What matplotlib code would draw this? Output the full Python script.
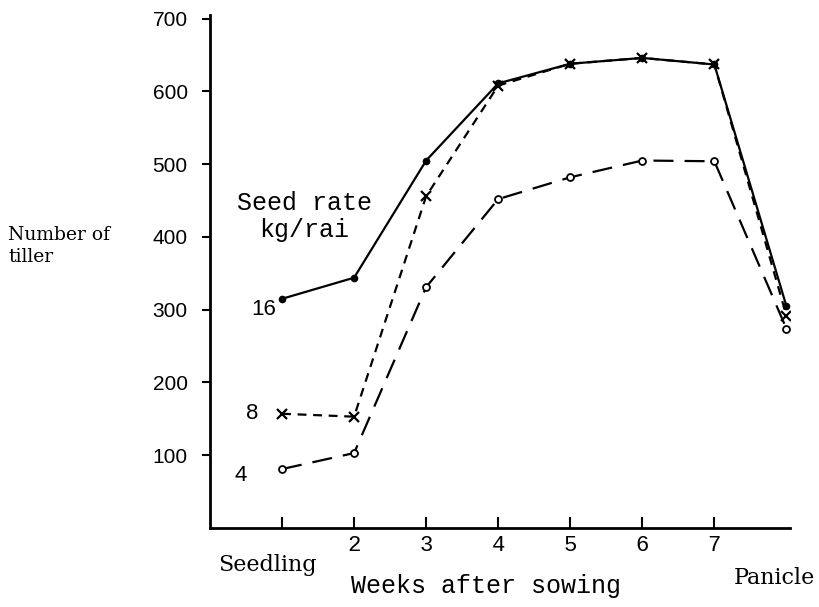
import matplotlib
matplotlib.use("Agg")
import matplotlib.pyplot as plt

# Data
positions = [1, 2, 3, 4, 5, 6, 7, 8]
rate16 = [315, 344, 505, 611, 638, 646, 637, 305]
rate8 = [157, 153, 456, 608, 638, 646, 637, 292]
rate4 = [81, 103, 331, 452, 482, 505, 504, 274]
xtick_pos = [1, 2, 3, 4, 5, 6, 7]
xtick_labels = ["", "2", "3", "4", "5", "6", "7"]
ytick_vals = [100, 200, 300, 400, 500, 600, 700]
series_labels = ["16", "8", "4"]

fig = plt.figure(figsize=(8.2, 6.07), dpi=100)
ax = fig.add_axes([210/820, 1-528/607, 580/820, 513/607])

ax.plot(positions, rate16, color="black", lw=1.6, ls="-", marker="o", ms=4.5, mfc="black")
ax.plot(positions, rate8, color="black", lw=1.6, ls=(0, (4, 3)), marker="x", ms=7, mew=1.6)
ax.plot(positions, rate4, color="black", lw=1.6, ls=(0, (9, 5)), marker="o", ms=5, mfc="white", mew=1.3)

ax.set_xlim(0, 8.05)
ax.set_ylim(0, 705)
for s in ("top", "right"):
    ax.spines[s].set_visible(False)
for s in ("left", "bottom"):
    ax.spines[s].set_linewidth(2)

ax.set_yticks(ytick_vals)
ax.set_yticklabels([str(v) for v in ytick_vals], fontsize=15, family="Liberation Sans")
ax.tick_params(axis="y", direction="out", length=6, width=1.5, pad=10)
ax.set_xticks(xtick_pos)
ax.set_xticklabels(xtick_labels, fontsize=16, family="Liberation Mono")
ax.tick_params(axis="x", direction="in", length=8, width=1.5, pad=5)

xt = ax.get_xaxis_transform()
ax.text(0.79, -0.072, "Seedling", transform=xt, ha="center", va="center",
        fontsize=16, family="DejaVu Serif")
ax.text(7.83, -0.098, "Panicle", transform=xt, ha="center", va="center",
        fontsize=16, family="DejaVu Serif")
ax.text(3.83, -0.113, "Weeks after sowing", transform=xt, ha="center", va="center",
        fontsize=18, family="Liberation Mono")

ax.text(1.31, 428, "Seed rate\nkg/rai", ha="center", va="center", fontsize=18,
        family="Liberation Mono", linespacing=1.15)

label_xy = [(0.75, 300), (0.58, 157), (0.43, 72)]
for lab, (lx, ly) in zip(series_labels, label_xy):
    ax.text(lx, ly, lab, ha="center", va="center", fontsize=16, family="Liberation Sans")

fig.text(8/820, 1-246/607, "Number of\ntiller", ha="left", va="center", fontsize=13.5,
         family="DejaVu Serif", linespacing=1.25)

fig.savefig("out.png", dpi=100)
